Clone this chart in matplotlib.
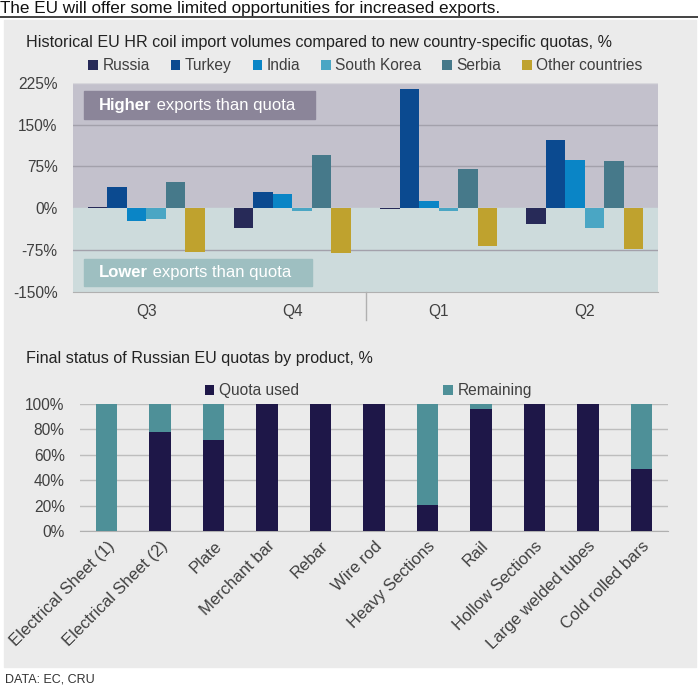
import numpy as np
import matplotlib.pyplot as plt
from matplotlib.patches import Rectangle
from matplotlib.lines import Line2D

plt.rcParams['font.family'] = ['Liberation Sans', 'DejaVu Sans']

# top chart data
quarters = ["Q3", "Q4", "Q1", "Q2"]
countries = ["Russia", "Turkey", "India", "South Korea", "Serbia", "Other countries"]
russia = [2, -35, -2, -28]
turkey = [38, 29, 214, 123]
india = [-23, 26, 13, 87]
south_korea = [-19, -5, -5, -35]
serbia = [47, 96, 71, 85]
other = [-78, -81, -67, -74]
top_ticks = [225, 150, 75, 0, -75, -150]
top_labels = ["225%", "150%", "75%", "0%", "-75%", "-150%"]

# bottom chart data
products = ["Electrical Sheet (1)", "Electrical Sheet (2)", "Plate", "Merchant bar",
            "Rebar", "Wire rod", "Heavy Sections", "Rail", "Hollow Sections",
            "Large welded tubes", "Cold rolled bars"]
quota_used = [0, 78, 72, 100, 100, 100, 21, 96, 100, 100, 49]
remaining = [100 - v for v in quota_used]
bottom_ticks = [0, 20, 40, 60, 80, 100]

country_colors = ["#272a58", "#0b4a90", "#0a85c6", "#4aa6c4", "#46798a", "#bfa22e"]
text_col = "#404040"
fs = 11.2

fig = plt.figure(figsize=(6.98, 6.86), dpi=100)
fig.patch.set_facecolor("white")
W, H = 698, 686

# grey panel + header line
fig.patches.append(Rectangle((3.5 / W, 1 - 667 / H), 692.5 / W, 647 / H,
                             transform=fig.transFigure, color="#ebebeb", zorder=-5))
fig.lines.append(Line2D([0, 1], [1 - 17 / H] * 2, transform=fig.transFigure,
                        color="#222222", lw=1.2))
fig.text(0.0, 1 - 8 / H, "The EU will offer some limited opportunities for increased exports.",
         fontsize=12.3, va="center", ha="left", color="#111111")
fig.text(5 / W, 1 - 679 / H, "DATA: EC, CRU", fontsize=9, va="center", color="#333333")

# ---- top chart ----
ax = fig.add_axes([73 / W, 1 - 291.7 / H, 585 / W, 208.7 / H])
ax.set_facecolor("none")
x = np.arange(len(quarters))
series = [russia, turkey, india, south_korea, serbia, other]
bw = 0.8 / len(series)
ax.axhspan(0, 225, color="#c3c1cc", zorder=0)
ax.axhspan(-150, 0, color="#cddbdc", zorder=0)
for yv in [150, 75, -75]:
    ax.axhline(yv, color="#a3a1ab", lw=1, zorder=1)
ax.axhline(225, color="#d8d8dc", lw=1, zorder=1)
for i, (vals, name) in enumerate(zip(series, countries)):
    ax.bar(x - 0.4 + bw * (i + 0.5), vals, bw, color=country_colors[i], label=name, zorder=3)
ax.set_xlim(-0.5, 3.5)
ax.set_ylim(-150, 225)
ax.set_yticks(top_ticks)
ax.set_yticklabels(top_labels)
ax.set_xticks(x)
ax.set_xticklabels(quarters)
ax.tick_params(length=0, labelsize=fs, colors=text_col)
ax.tick_params(axis="x", pad=9)
ax.tick_params(axis="y", pad=11)
for s in ["top", "right", "left"]:
    ax.spines[s].set_visible(False)
ax.spines["bottom"].set_color("#b0b0b0")
ax.plot([0.5, 0.5], [0, -0.135], transform=ax.transAxes, color="#b0b0b0", lw=1, clip_on=False)

# labelled boxes
ax.add_patch(Rectangle((0.0188, 0.8275), 0.395, 0.134, transform=ax.transAxes,
                       color="#8b8599", zorder=4))
ax.add_patch(Rectangle((0.0188, 0.027), 0.39, 0.13, transform=ax.transAxes,
                       color="#9ebfc1", zorder=4))
t1 = ax.text(0.045, 0.894, "Higher", transform=ax.transAxes, fontsize=12,
             fontweight="bold", color="white", va="center", zorder=5)
ax.annotate(" exports than quota", xy=(1, 0.5), xycoords=t1, va="center",
            fontsize=12, color="white", zorder=5)
t2 = ax.text(0.045, 0.09, "Lower", transform=ax.transAxes, fontsize=12,
             fontweight="bold", color="white", va="center", zorder=5)
ax.annotate(" exports than quota", xy=(1, 0.5), xycoords=t2, va="center",
            fontsize=12, color="white", zorder=5)

fig.text(26 / W, 1 - 42 / H,
         "Historical EU HR coil import volumes compared to new country-specific quotas, %",
         fontsize=11.6, va="center", color="#222222")
ax.legend(loc="center", bbox_to_anchor=(0.5, 1.083), ncol=6, frameon=False,
          fontsize=fs, handlelength=0.6, handleheight=0.6, handletextpad=0.3,
          columnspacing=1.35, labelcolor=text_col)

# ---- bottom chart ----
ax2 = fig.add_axes([80 / W, 1 - 531.3 / H, 588 / W, 127.3 / H])
ax2.set_facecolor("none")
xb = np.arange(len(products))
ax2.bar(xb, quota_used, 0.4, color="#1e1748", label="Quota used", zorder=3)
ax2.bar(xb, remaining, 0.4, bottom=quota_used, color="#4e9098", label="Remaining", zorder=3)
ax2.set_xlim(-0.5, len(products) - 0.5)
ax2.set_ylim(0, 100)
ax2.set_yticks(bottom_ticks)
ax2.set_yticklabels([f"{v}%" for v in bottom_ticks])
ax2.yaxis.grid(True, color="#bdbdbd", lw=1, zorder=0)
ax2.set_xticks(xb)
ax2.set_xticklabels(products, rotation=45, ha="right", rotation_mode="anchor", fontsize=12)
ax2.tick_params(length=0, colors=text_col)
ax2.tick_params(axis="y", labelsize=fs, pad=11)
ax2.tick_params(axis="x", pad=5)
for s in ["top", "right", "left"]:
    ax2.spines[s].set_visible(False)
ax2.spines["bottom"].set_color("#b0b0b0")

fig.text(26 / W, 1 - 359 / H, "Final status of Russian EU quotas by product, %",
         fontsize=11.6, va="center", color="#222222")
ax2.legend(loc="center", bbox_to_anchor=(0.49, 1.104), ncol=2, frameon=False,
           fontsize=fs, handlelength=0.6, handleheight=0.6, handletextpad=0.3,
           columnspacing=9.3, labelcolor=text_col)

fig.savefig("out.png", dpi=100)
